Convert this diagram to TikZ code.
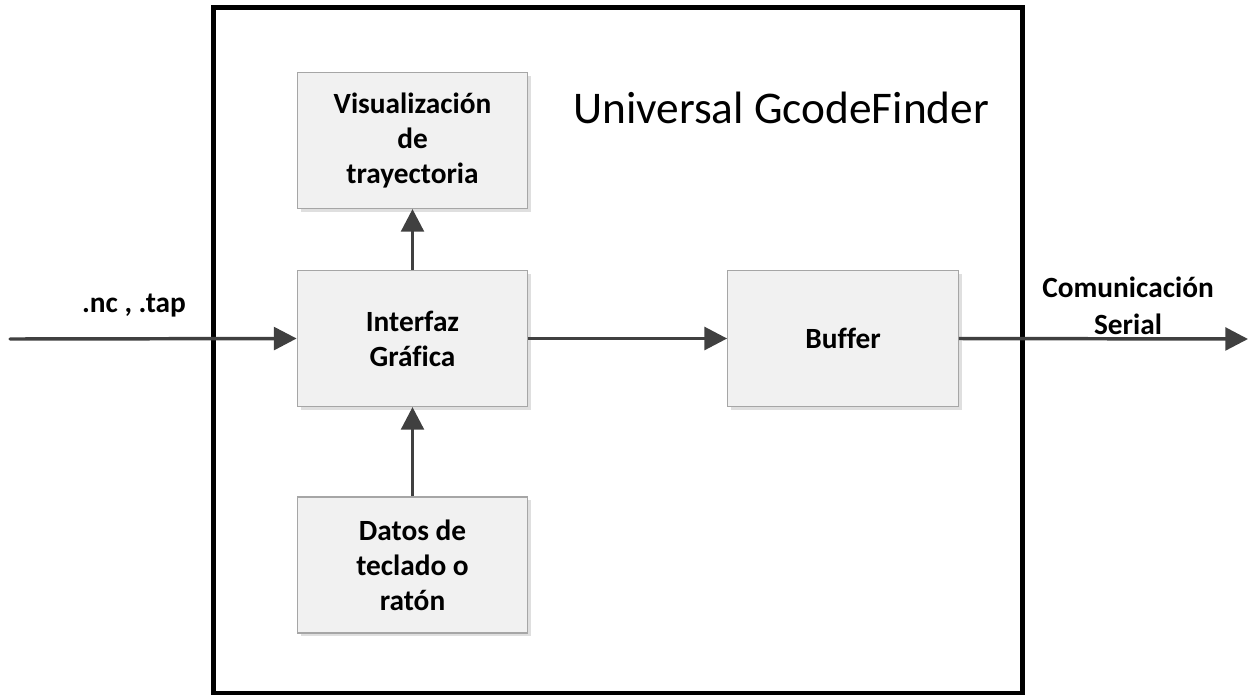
\documentclass[tikz,border=0pt]{standalone}
\usepackage{fontspec}
\setmainfont{Carlito}[Ligatures=NoCommon]
\usepackage{tikz}
\usetikzlibrary{arrows.meta,positioning,shadows}
\definecolor{BoxFill}{HTML}{F1F1F1}
\definecolor{BoxFrame}{HTML}{A6A6A6}
\definecolor{ArrowCol}{HTML}{404040}

\begin{document}
\begin{tikzpicture}[x=0.75pt,y=-0.75pt,>={Triangle[length=17pt,width=17pt]}]
  \tikzstyle{blockb}=[draw=BoxFrame, line width=0.8pt, fill=BoxFill,
               minimum width=173pt, minimum height=102pt, align=center,
               font=\fontsize{22}{26.2}\selectfont\bfseries,
               drop shadow={shadow xshift=2.5pt, shadow yshift=-2.5pt, fill=black!25}]
  \tikzstyle{flow}=[->, draw=ArrowCol, fill=ArrowCol, line width=2.6pt]
  \tikzstyle{tagb}=[font=\fontsize{22}{27.5}\selectfont\bfseries, align=center]
  \useasboundingbox (0,0) rectangle (1251,697);
  % system frame
  \draw[line width=3.6pt] (213.5,7.5) rectangle (1022.5,693);
  \node[anchor=base west, inner xsep=0pt, font=\fontsize{34}{41}\selectfont] (title) at (573,123)
    {Universal GcodeFinder};
  % blocks
  \node[blockb] (visual) at (412.5,140.5) {Visualización\\de\\trayectoria};
  \node[blockb] (iface) at (412.5,338.5) {Interfaz\\Gráfica};
  \node[blockb] (datos) at (412.5,565) {Datos de\\teclado o\\ratón};
  \node[blockb] (buffer) at (843,338.5) {Buffer};
  % in / out
  \coordinate (src) at (10,339);
  \coordinate (sink) at (1248,339);
  \node[tagb, anchor=base] (fmt) at (134,312) {.nc , .tap};
  \node[tagb] (serial) at (1128,306) {Comunicación\\Serial};
  % connectors
  \draw[flow, line cap=round] (src) -- (iface.west);
  \draw[flow] (iface.east) -- (buffer.west);
  \draw[flow] (buffer.east) -- (sink);
  \draw[flow] (iface.north) -- (visual.south);
  \draw[flow] (datos.north) -- (iface.south);
\end{tikzpicture}
\end{document}
